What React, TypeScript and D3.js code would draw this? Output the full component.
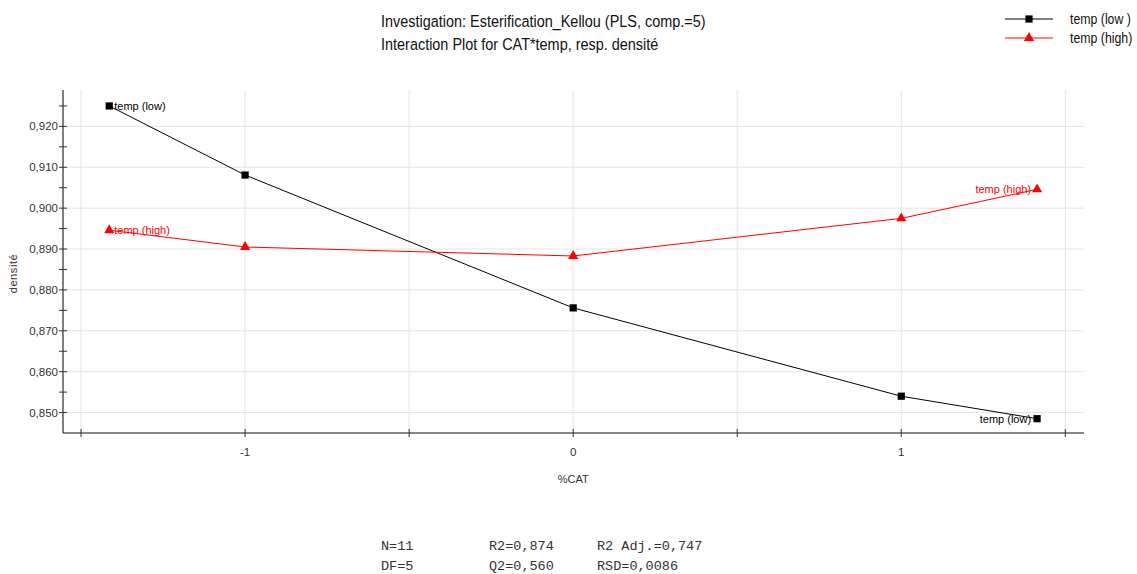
import { useRef, useEffect } from 'react';
import * as d3 from 'd3';

const catLevels = [-1.414, -1, 0, 1, 1.414];
const tempLow = [0.925, 0.9081, 0.8756, 0.854, 0.8485];
const tempHigh = [0.8946, 0.8905, 0.8883, 0.8975, 0.9046];
const yTicks = [0.85, 0.86, 0.87, 0.88, 0.89, 0.9, 0.91, 0.92];
const xTicks = [-1, 0, 1];
const seriesNames = ['temp (low)', 'temp (high)'];
const legendNames = ['temp (low )', 'temp (high)'];
const titleLines = [
  'Investigation: Esterification_Kellou (PLS, comp.=5)',
  'Interaction Plot for CAT*temp, resp. densité',
];
const statsRows = [
  ['N=11', 'R2=0,874', 'R2 Adj.=0,747'],
  ['DF=5', 'Q2=0,560', 'RSD=0,0086'],
];

function App() {
  const ref = useRef<SVGSVGElement>(null);

  useEffect(() => {
    document.body.style.margin = '0';
    const svg = d3.select(ref.current);
    svg.selectAll('*').remove();

    const left = 63, right = 1084, top = 90, bottom = 433;
    const font = 'Liberation Sans, Arial, sans-serif';

    const x = d3.scaleLinear().domain([-1.555, 1.557]).range([left, right]);
    const y = d3.scaleLinear().domain([0.845, 0.9289]).range([bottom, top]);

    const xAll = d3.range(-1.5, 1.51, 0.5);
    const yMinor = d3.range(0.85, 0.9276, 0.005);
    const fmt = (v: number) => d3.format('.3f')(v).replace('.', ',');

    // grid
    const g = svg.append('g');
    g.selectAll('.vg').data(xAll).enter().append('line')
      .attr('x1', d => x(d)).attr('x2', d => x(d))
      .attr('y1', top).attr('y2', bottom)
      .attr('stroke', '#e4e4e4').attr('stroke-width', 1);
    g.selectAll('.hg').data(yTicks).enter().append('line')
      .attr('x1', left).attr('x2', right)
      .attr('y1', d => y(d)).attr('y2', d => y(d))
      .attr('stroke', '#e4e4e4').attr('stroke-width', 1);

    // y axis
    g.append('line').attr('x1', left).attr('x2', left).attr('y1', top).attr('y2', bottom)
      .attr('stroke', '#555').attr('stroke-width', 1.5);
    g.selectAll('.yt').data(yMinor).enter().append('line')
      .attr('x1', left - 4).attr('x2', left + 4)
      .attr('y1', d => y(d)).attr('y2', d => y(d))
      .attr('stroke', '#333');
    g.selectAll('.yl').data(yTicks).enter().append('text')
      .attr('x', left - 5).attr('y', d => y(d)).attr('dy', '0.35em')
      .attr('text-anchor', 'end').attr('font-family', font).attr('font-size', 11.5)
      .attr('fill', '#333').text(d => fmt(d));
    g.append('text')
      .attr('transform', `translate(17,${(top + bottom) / 2 + 12}) rotate(-90)`)
      .attr('text-anchor', 'middle').attr('font-family', font).attr('font-size', 11)
      .attr('fill', '#333').attr('letter-spacing', 0.6).text('densité');

    // x axis
    g.append('line').attr('x1', left).attr('x2', right).attr('y1', bottom).attr('y2', bottom)
      .attr('stroke', '#111').attr('stroke-width', 1.2);
    g.selectAll('.xt').data(xAll).enter().append('line')
      .attr('x1', d => x(d)).attr('x2', d => x(d))
      .attr('y1', bottom - 4).attr('y2', bottom + 4)
      .attr('stroke', '#333');
    g.selectAll('.xl').data(xTicks).enter().append('text')
      .attr('x', d => x(d)).attr('y', bottom + 23)
      .attr('text-anchor', 'middle').attr('font-family', font).attr('font-size', 11.5)
      .attr('fill', '#333').text(d => (d < 0 ? '-' + Math.abs(d) : String(d)));
    g.append('text').attr('x', x(0)).attr('y', bottom + 50)
      .attr('text-anchor', 'middle').attr('font-family', font).attr('font-size', 11)
      .attr('fill', '#333').text('%CAT');

    const series = [
      { name: seriesNames[0], values: tempLow, color: '#000', marker: d3.symbolSquare, size: 52 },
      { name: seriesNames[1], values: tempHigh, color: '#f00', marker: d3.symbolTriangle, size: 45 },
    ];
    const line = d3.line<number>().x((_, i) => x(catLevels[i])).y(d => y(d));

    series.forEach(s => {
      g.append('path').datum(s.values).attr('d', line)
        .attr('fill', 'none').attr('stroke', s.color).attr('stroke-width', 1);
      g.selectAll(null).data(s.values).enter().append('path')
        .attr('d', d3.symbol().type(s.marker).size(s.size)())
        .attr('transform', (d, i) => `translate(${x(catLevels[i])},${y(d)})`)
        .attr('fill', s.color);
      const n = s.values.length;
      g.append('text').attr('x', x(catLevels[0]) + 5).attr('y', y(s.values[0]) + 4)
        .attr('font-family', font).attr('font-size', 11).attr('fill', s.color).text(s.name);
      g.append('text').attr('x', x(catLevels[n - 1]) - 6).attr('y', y(s.values[n - 1]) + 4)
        .attr('text-anchor', 'end').attr('font-family', font).attr('font-size', 11)
        .attr('fill', s.color).text(s.name);
    });

    // title (narrow face emulated by horizontal scaling)
    const sx = 0.875;
    svg.selectAll('.title').data(titleLines).enter().append('text')
      .attr('transform', (_, i) => `translate(381,${27 + i * 23}) scale(${sx},1)`)
      .attr('font-family', font)
      .attr('font-size', 16.5).attr('fill', '#111').text(d => d);

    // legend
    series.forEach((s, i) => {
      const ly = 19 + i * 19;
      svg.append('line').attr('x1', 1005).attr('x2', 1053).attr('y1', ly).attr('y2', ly)
        .attr('stroke', s.color).attr('stroke-width', 1);
      svg.append('path').attr('d', d3.symbol().type(s.marker).size(s.size)())
        .attr('transform', `translate(1029,${ly})`).attr('fill', s.color);
      svg.append('text').attr('transform', `translate(1070,${ly + 5}) scale(0.88,1)`)
        .attr('font-family', font)
        .attr('font-size', 14).attr('fill', '#111').text(legendNames[i]);
    });

    // stats
    const colX = [381, 489, 597];
    statsRows.forEach((row, r) => {
      row.forEach((t, c) => {
        svg.append('text').attr('x', colX[c]).attr('y', 550 + r * 20)
          .attr('font-family', 'Liberation Mono, Courier New, monospace').attr('font-size', 13.5)
          .attr('fill', '#333').text(t);
      });
    });
  }, []);

  return <svg ref={ref} width={1137} height={574} style={{ display: 'block', background: '#fff' }} />;
}

export default App;
